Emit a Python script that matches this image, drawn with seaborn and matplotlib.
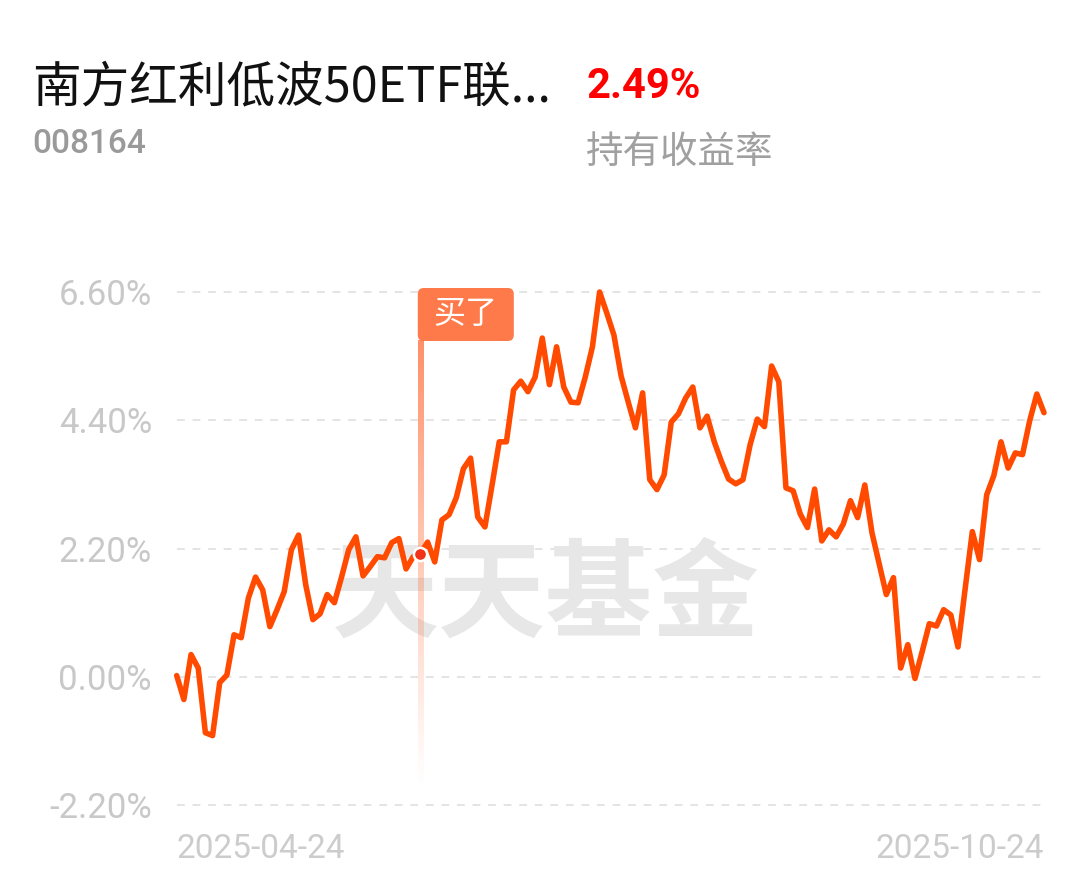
import matplotlib
matplotlib.use('Agg')
import matplotlib.pyplot as plt
import numpy as np
import pandas as pd
import seaborn as sns
from matplotlib.colors import to_rgb
from matplotlib.patches import FancyBboxPatch

FUND_NAME = "南方红利低波50ETF联..."
FUND_CODE = "008164"
HOLD_RETURN = "2.49%"
HOLD_LABEL = "持有收益率"
WATERMARK = "天天基金"
BUY_TEXT = "买了"

# daily cumulative return (%)
RETURNS = [
    0.02, -0.39, 0.38, 0.15, -0.96, -1.01, -0.10, 0.03, 0.72, 0.67,
    1.35, 1.71, 1.49, 0.86, 1.15, 1.46, 2.18, 2.43, 1.58, 0.98,
    1.08, 1.41, 1.27, 1.71, 2.18, 2.40, 1.73, 1.89, 2.06, 2.04,
    2.30, 2.37, 1.85, 2.06, 2.11, 2.31, 1.97, 2.69, 2.78, 3.07,
    3.57, 3.75, 2.74, 2.57, 3.29, 4.03, 4.03, 4.92, 5.07, 4.89,
    5.14, 5.81, 5.01, 5.66, 4.97, 4.71, 4.70, 5.14, 5.66, 6.60,
    6.24, 5.86, 5.16, 4.71, 4.27, 4.87, 3.38, 3.21, 3.46, 4.37,
    4.51, 4.78, 4.97, 4.27, 4.47, 4.03, 3.69, 3.39, 3.31, 3.38,
    3.98, 4.42, 4.29, 5.33, 5.06, 3.24, 3.19, 2.79, 2.56, 3.22,
    2.33, 2.52, 2.40, 2.62, 3.02, 2.73, 3.29, 2.47, 1.94, 1.41,
    1.70, 0.15, 0.55, -0.03, 0.43, 0.91, 0.87, 1.15, 1.06, 0.51,
    1.51, 2.49, 2.01, 3.12, 3.45, 4.03, 3.58, 3.84, 3.81, 4.39,
    4.85, 4.53,
]
BUY_INDEX = 34
DATE_LABELS = ["2025-04-24", "2025-10-24"]
Y_TICKS = [-2.2, 0.0, 2.2, 4.4, 6.6]
Y_LABELS = ["-2.20%", "0.00%", "2.20%", "4.40%", "6.60%"]

LINE_COLOR = "#ff4a00"
BUY_COLOR = "#ff7a4a"

sns.set_theme(style="white")
plt.rcParams['font.family'] = ['Noto Sans CJK SC', 'DejaVu Sans']

W, H = 1089, 881
fig = plt.figure(figsize=(W / 100, H / 100), dpi=100)
fig.patch.set_facecolor("white")
left, right, top, bottom = 176.7, 1044, 292, 805
ax = fig.add_axes([left / W, 1 - bottom / H, (right - left) / W, (bottom - top) / H])
ax.set_facecolor("white")

df = pd.DataFrame({"day": np.arange(len(RETURNS)), "ret": RETURNS})
n = len(RETURNS) - 1

for yv in Y_TICKS:
    ax.axhline(yv, color="#e4e4e4", lw=1.4, linestyle=(0, (4, 4)), clip_on=False, zorder=0)

# watermark
ax.text(0.426, 0.405, WATERMARK, transform=ax.transAxes, ha="center", va="center",
        fontsize=77, fontweight="bold", color="#e7e7e7", zorder=1)

# fading buy marker line
px_per_unit = (bottom - top) / (Y_TICKS[-1] - Y_TICKS[0])
xpx = (right - left) / n
y_top = Y_TICKS[-1] - (341 - top) / px_per_unit
y_bot = Y_TICKS[-1] - (790 - top) / px_per_unit
grad = np.zeros((200, 1, 4))
grad[:, 0, :3] = to_rgb(BUY_COLOR)
grad[:, 0, 3] = np.linspace(0.85, 0.0, 200) ** 1.1
half = 2.6 / xpx
ax.imshow(grad, extent=[BUY_INDEX - half, BUY_INDEX + half, y_bot, y_top],
          aspect="auto", origin="upper", zorder=2, clip_on=False, interpolation="bilinear")

sns.lineplot(data=df, x="day", y="ret", ax=ax, color=LINE_COLOR, lw=4, zorder=3)
ax.lines[-1].set_clip_on(False)

ax.plot([BUY_INDEX], [RETURNS[BUY_INDEX]], "o", ms=9.5, color="#f2331a",
        mec="white", mew=1.8, zorder=4, clip_on=False)

# buy label box
box_w = 96 / xpx
box_h = 53 / px_per_unit
bx = BUY_INDEX - half
by = y_top
box = FancyBboxPatch((bx, by), box_w, box_h,
                     boxstyle=f"round,pad=0,rounding_size={6 / xpx}",
                     mutation_aspect=xpx / px_per_unit,
                     fc=BUY_COLOR, ec="none", zorder=5, clip_on=False)
ax.add_patch(box)
ax.text(bx + box_w / 2, by + box_h / 2, BUY_TEXT, ha="center", va="center",
        fontsize=23, color="white", zorder=6, clip_on=False)

ax.set_xlim(0, n)
ax.set_ylim(Y_TICKS[0], Y_TICKS[-1])

for s in ax.spines.values():
    s.set_visible(False)

ax.set_yticks(Y_TICKS)
ax.set_yticklabels(Y_LABELS)
ax.set_xticks([0, n])
ax.set_xticklabels(DATE_LABELS)
ax.tick_params(axis="y", length=0, pad=17.8, labelsize=25, labelcolor="#c8c8c8")
ax.tick_params(axis="x", length=0, pad=20, labelsize=24, labelcolor="#cccccc")
for lab in ax.get_yticklabels() + ax.get_xticklabels():
    lab.set_family("Roboto")
xl = ax.get_xticklabels()
xl[0].set_horizontalalignment("left")
xl[1].set_horizontalalignment("right")
ax.set_xlabel("")
ax.set_ylabel("")

# header
fig.text(32 / W, 1 - 88 / H, FUND_NAME, ha="left", va="center", fontsize=35, color="#111111")
fig.text(586 / W, 1 - 87 / H, HOLD_RETURN, ha="left", va="center", fontsize=30,
         fontweight="bold", color="#ff0000", family="Roboto")
fig.text(32 / W, 1 - 144 / H, FUND_CODE, ha="left", va="center", fontsize=24,
         fontweight="medium", color="#9a9a9a", family="Roboto")
fig.text(586 / W, 1 - 152 / H, HOLD_LABEL, ha="left", va="center", fontsize=27, color="#a0a0a0")

fig.savefig("out.png", dpi=100, facecolor="white")
